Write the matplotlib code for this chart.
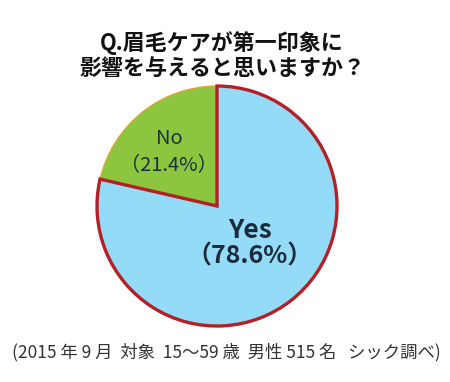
import matplotlib
matplotlib.use("Agg")
import matplotlib.pyplot as plt
import numpy as np

plt.rcParams['font.family'] = ['Noto Sans CJK JP', 'DejaVu Sans']

labels = ["No", "Yes"]
values = [21.4, 78.6]
colors = ["#8cc63f", "#93dbf7"]
title_lines = ["Q.眉毛ケアが第一印象に", "影響を与えると思いますか？"]
footnote = "(2015 年 9 月  対象  15～59 歳  男性 515 名   シック調べ)"

W, H = 450, 382
fig = plt.figure(figsize=(W / 100, H / 100), dpi=100)
ax = fig.add_axes([0, 0, 1, 1])

cx, cy, r = 217, H - 206, 120
wedges, _ = ax.pie(values, colors=colors, startangle=90, counterclock=True,
                   center=(cx, cy), radius=r, explode=[0, 0.015],
                   wedgeprops=dict(linewidth=0))
wedges[0].set_edgecolor("#e8a030")
wedges[0].set_linewidth(0.8)
wedges[1].set_edgecolor("#b51f26")
wedges[1].set_linewidth(2.4)
wedges[1].set_zorder(3)
wedges[0].set_zorder(2)

ax.set_xlim(0, W)
ax.set_ylim(0, H)
ax.set_aspect("equal")
ax.axis("off")

# labels
ax.text(169, H - 138, labels[0], ha="center", va="center", fontsize=14.5,
        color="#1d3040", zorder=5)
ax.text(169, H - 166, "（%.1f%%）" % values[0], ha="center", va="center",
        fontsize=14.5, color="#1d3040", zorder=5)
ax.text(250, H - 230, labels[1], ha="center", va="center", fontsize=19,
        fontweight="bold", color="#1d2a3a", zorder=5)
ax.text(250, H - 257, "（%.1f%%）" % values[1], ha="center", va="center",
        fontsize=18, fontweight="bold", color="#1d2a3a", zorder=5)

ax.text(222, H - 43, title_lines[0], ha="center", va="center", fontsize=15.8,
        fontweight="bold", color="#111111")
ax.text(222, H - 68, title_lines[1], ha="center", va="center", fontsize=15.8,
        fontweight="bold", color="#111111")

ax.text(226, H - 352, footnote, ha="center", va="center", fontsize=12.5,
        color="#333333")

fig.savefig("out.png", dpi=100)
